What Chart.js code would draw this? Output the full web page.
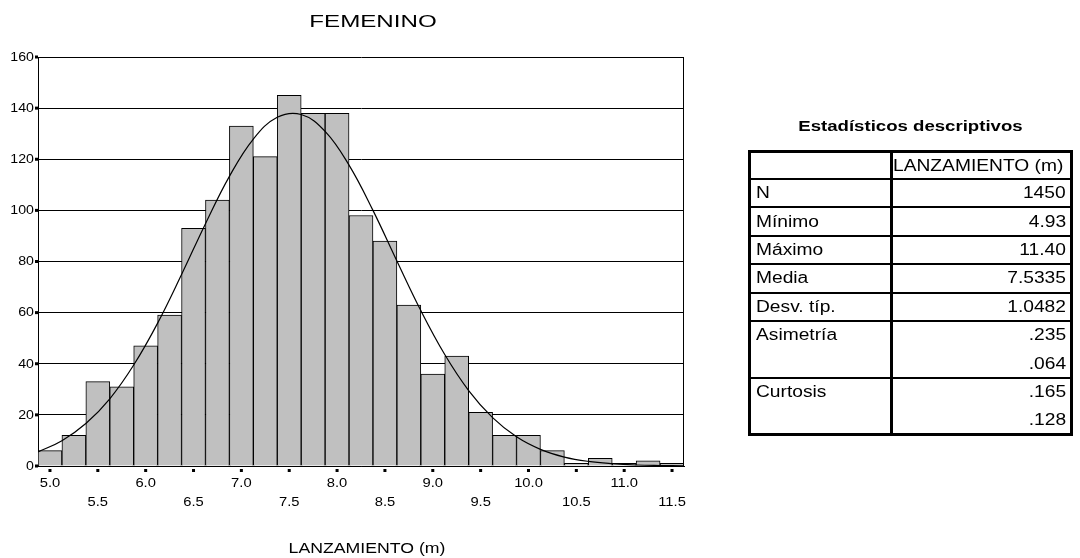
<!DOCTYPE html>
<html>
<head>
<meta charset="utf-8">
<script src="https://cdn.jsdelivr.net/npm/chart.js@4/dist/chart.umd.min.js"></script>
<style>
  html, body { margin: 0; padding: 0; background: #fff; }
  #wrap { position: relative; width: 1080px; height: 558px; overflow: hidden; background: #fff; }
  #chart { position: absolute; left: 0; top: 0; }
  .txt { position: absolute; height: 20px; line-height: 20px; font-family: "Liberation Sans", Arial, sans-serif; font-size: 16px; color: #000; white-space: nowrap; }
  .txt span { display: inline-block; transform: scaleX(1.2); }
  .left span { transform-origin: left center; }
  .right { text-align: right; }
  .right span { transform-origin: right center; }
  .center { text-align: center; }
  .center span { transform-origin: center center; }
  .rule { position: absolute; background: #000; }
</style>
</head>
<body>
<div id="wrap">
  <canvas id="chart" width="1080" height="558"></canvas>
  <div id="stats"></div>
</div>
<script>
// Histogram bins (centre of each 0.25 m class) and their counts
const binCenters = [5.0, 5.25, 5.5, 5.75, 6.0, 6.25, 6.5, 6.75, 7.0, 7.25, 7.5, 7.75, 8.0, 8.25,
                    8.5, 8.75, 9.0, 9.25, 9.5, 9.75, 10.0, 10.25, 10.5, 10.75, 11.0, 11.25, 11.5];
const counts = [6, 12, 33, 31, 47, 59, 93, 104, 133, 121, 145, 138, 138, 98,
                88, 63, 36, 43, 21, 12, 12, 6, 1, 3, 1, 2, 1];

// Normal curve overlay
const curveX = [4.875, 5.125, 5.375, 5.625, 5.875, 6.125, 6.375, 6.625, 6.875, 7.125, 7.375, 7.625,
                7.875, 8.125, 8.375, 8.625, 8.875, 9.125, 9.375, 9.625, 9.875, 10.125, 10.375,
                10.625, 10.875, 11.125, 11.375, 11.625];
const curveY = [5.5, 9.9, 16.6, 26.3, 39.5, 55.9, 74.9, 94.8, 113.3, 127.9, 136.4, 137.5,
                130.9, 117.7, 100.0, 80.2, 60.8, 43.6, 29.5, 18.9, 11.4, 6.5, 3.5,
                1.8, 0.9, 0.4, 0.2, 0.1];

// Axis ticks
const yTickValues = [0, 20, 40, 60, 80, 100, 120, 140, 160];
const xTickValues = [5.0, 5.5, 6.0, 6.5, 7.0, 7.5, 8.0, 8.5, 9.0, 9.5, 10.0, 10.5, 11.0, 11.5];
const xTickLabels = ['5.0', '5.5', '6.0', '6.5', '7.0', '7.5', '8.0', '8.5', '9.0', '9.5', '10.0', '10.5', '11.0', '11.5'];

// Texts
const chartTitle = 'FEMENINO';
const xAxisTitle = 'LANZAMIENTO (m)';

// Descriptive statistics table
const tableTitle = 'Estadísticos descriptivos';
const tableHeader = 'LANZAMIENTO (m)';
const statLabels = ['N', 'Mínimo', 'Máximo', 'Media', 'Desv. típ.', 'Asimetría', '', 'Curtosis', ''];
const statValues = ['1450', '4.93', '11.40', '7.5335', '1.0482', '.235', '.064', '.165', '.128'];
const ruleAfter = [true, true, true, true, true, false, true, false, false];

const FONT = '"Liberation Sans", Arial, sans-serif';

function stretchedText(ctx, str, x, y, size, sx, align, weight) {
  ctx.save();
  ctx.font = (weight ? weight + ' ' : '') + size + 'px ' + FONT;
  ctx.textBaseline = 'middle';
  ctx.textAlign = align;
  ctx.fillStyle = '#000';
  ctx.translate(x, y);
  ctx.scale(sx, 1);
  ctx.fillText(str, 0, 0);
  ctx.restore();
}

const decorations = {
  id: 'decorations',
  afterDraw(chart) {
    const ctx = chart.ctx;
    const area = chart.chartArea;
    const xs = chart.scales.x, ys = chart.scales.y;

    // plot frame
    ctx.save();
    ctx.strokeStyle = '#000';
    ctx.lineWidth = 1;
    ctx.beginPath();
    ctx.moveTo(Math.round(area.right) - 0.5, area.top);
    ctx.lineTo(Math.round(area.right) - 0.5, area.bottom);
    ctx.stroke();
    ctx.restore();

    // y ticks and labels
    ctx.fillStyle = '#000';
    yTickValues.forEach(v => {
      const y = ys.getPixelForValue(v);
      ctx.fillRect(area.left - 3, y - 1.5, 3, 3);
      stretchedText(ctx, String(v), area.left - 4, y + 0.5, 12, 1.18, 'right');
    });

    // x ticks and labels on two alternating rows
    xTickValues.forEach((v, i) => {
      const x = xs.getPixelForValue(v);
      ctx.fillStyle = '#000';
      ctx.fillRect(x - 1.5, area.bottom + 3, 3, 3);
      const rowY = (i % 2 === 0) ? area.bottom + 18 : area.bottom + 37;
      stretchedText(ctx, xTickLabels[i], x, rowY, 12.5, 1.18, 'center');
    });

    // titles
    stretchedText(ctx, chartTitle, 373, 22, 17, 1.42, 'center');
    stretchedText(ctx, xAxisTitle, 367, 549, 14.5, 1.22, 'center');
  }
};

new Chart(document.getElementById('chart'), {
  type: 'bar',
  data: {
    datasets: [
      {
        type: 'line',
        data: curveX.map((x, i) => ({ x: x, y: curveY[i] })),
        borderColor: '#000',
        borderWidth: 1.2,
        pointRadius: 0,
        tension: 0.4,
        fill: false,
        order: 0
      },
      {
        type: 'bar',
        data: binCenters.map((x, i) => ({ x: x, y: counts[i] })),
        backgroundColor: '#c0c0c0',
        borderColor: '#000',
        borderWidth: 1,
        borderSkipped: 'bottom',
        barPercentage: 1,
        categoryPercentage: 1,
        order: 1
      }
    ]
  },
  options: {
    responsive: false,
    animation: false,
    events: [],
    layout: { padding: { left: 0, top: 57, right: 396, bottom: 0 } },
    plugins: { legend: { display: false }, tooltip: { enabled: false }, title: { display: false } },
    scales: {
      x: {
        type: 'linear',
        min: 4.875,
        max: 11.625,
        offset: false,
        grid: { display: false, drawTicks: false, offset: false },
        border: { display: true, color: '#000', width: 1 },
        ticks: { display: false },
        afterFit(scale) { scale.height = 92; }
      },
      y: {
        min: 0,
        max: 160,
        ticks: { display: false, stepSize: 20 },
        grid: { color: '#000', lineWidth: 1, drawTicks: false },
        border: { display: true, color: '#000', width: 1 },
        afterFit(scale) { scale.width = 38; }
      }
    }
  },
  plugins: [decorations]
});

// Statistics table
(function buildTable() {
  const host = document.getElementById('stats');
  const L = 748, R = 1073, T = 150, headerH = 29, rowH = 28.4;
  const divX = 890;
  const add = (html) => host.insertAdjacentHTML('beforeend', html);

  add(`<div class="txt center" style="left:${L}px;width:${R - L}px;top:116px;font-weight:bold;font-size:15.5px"><span>${tableTitle}</span></div>`);

  const bodyTop = T + headerH;
  const bottom = bodyTop + rowH * statLabels.length;

  // frame and column divider
  add(`<div class="rule" style="left:${L}px;top:${T}px;width:${R - L}px;height:3px"></div>`);
  add(`<div class="rule" style="left:${L}px;top:${Math.round(bottom) - 2}px;width:${R - L}px;height:3px"></div>`);
  add(`<div class="rule" style="left:${L}px;top:${T}px;width:3px;height:${Math.round(bottom) - T + 1}px"></div>`);
  add(`<div class="rule" style="left:${R - 3}px;top:${T}px;width:3px;height:${Math.round(bottom) - T + 1}px"></div>`);
  add(`<div class="rule" style="left:${divX}px;top:${T}px;width:3px;height:${Math.round(bottom) - T + 1}px"></div>`);
  add(`<div class="rule" style="left:${L}px;top:${bodyTop - 1}px;width:${R - L}px;height:2px"></div>`);

  add(`<div class="txt left" style="left:${divX + 3}px;top:${T + headerH / 2 - 9}px"><span>${tableHeader}</span></div>`);

  statLabels.forEach((lab, i) => {
    const top = bodyTop + rowH * i;
    const cy = top + rowH / 2;
    if (lab) add(`<div class="txt left" style="left:${L + 8}px;top:${cy - 10}px"><span>${lab}</span></div>`);
    add(`<div class="txt right" style="left:${divX}px;width:${R - 7 - divX}px;top:${cy - 10}px"><span>${statValues[i]}</span></div>`);
    if (ruleAfter[i]) {
      add(`<div class="rule" style="left:${L}px;top:${Math.round(top + rowH) - 1}px;width:${R - L}px;height:1.5px"></div>`);
    }
  });
})();
</script>
</body>
</html>
